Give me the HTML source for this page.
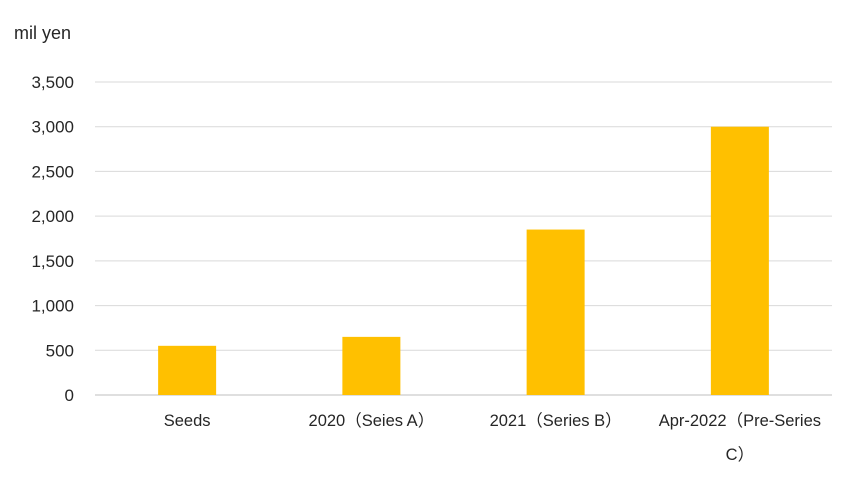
<!DOCTYPE html>
<html><head><meta charset="utf-8"><style>
body{margin:0;background:#fff;}
svg text{font-family:"Liberation Sans","Noto Sans CJK JP",sans-serif;fill:#262626;}
</style></head><body>
<svg width="845" height="475" xmlns="http://www.w3.org/2000/svg">
<text x="14" y="39" font-size="18">mil yen</text>
<g id="grid"></g><g id="bars"></g><g id="labels"></g>
</svg>
<script>
const categories=["Seeds","2020（Seies A）","2021（Series B）","Apr-2022（Pre-Series|C）"];
const values=[550,650,1850,3000];
const ticks=[0,500,1000,1500,2000,2500,3000,3500];
const tickLabels=["0","500","1,000","1,500","2,000","2,500","3,000","3,500"];
const NS="http://www.w3.org/2000/svg";
const x0=95,x1=832,y0=395,y1=82,maxV=3500;
const y=v=>y0-(v/maxV)*(y0-y1);
const band=(x1-x0)/categories.length;
const xc=i=>x0+band*(i+0.5);
const grid=document.getElementById('grid'),bars=document.getElementById('bars'),labels=document.getElementById('labels');
ticks.forEach((t,i)=>{
 const l=document.createElementNS(NS,'line');
 l.setAttribute('x1',x0);l.setAttribute('x2',x1);l.setAttribute('y1',y(t));l.setAttribute('y2',y(t));
 l.setAttribute('stroke',t===0?'#bfbfbf':'#d9d9d9');l.setAttribute('stroke-width','1');
 
 
 grid.appendChild(l);
 const tx=document.createElementNS(NS,'text');
 tx.setAttribute('x',74);tx.setAttribute('y',y(t)+6);tx.setAttribute('text-anchor','end');tx.setAttribute('font-size','17');
 tx.textContent=tickLabels[i];
 
 
 grid.appendChild(tx);
});
values.forEach((v,i)=>{
 const r=document.createElementNS(NS,'rect');
 const w=58;
 r.setAttribute('x',xc(i)-w/2);r.setAttribute('y',y(v));r.setAttribute('width',w);r.setAttribute('height',y0-y(v));
 r.setAttribute('fill','#ffc000');
 
 
 bars.appendChild(r);
 const lines=categories[i].split('|');
 lines.forEach((s,j)=>{
  const t=document.createElementNS(NS,'text');
  t.setAttribute('x',xc(i));t.setAttribute('y',426+j*34);t.setAttribute('text-anchor','middle');t.setAttribute('font-size','16.5');
  t.textContent=s;
  
  
  labels.appendChild(t);
 });
});
</script>
</body></html>
